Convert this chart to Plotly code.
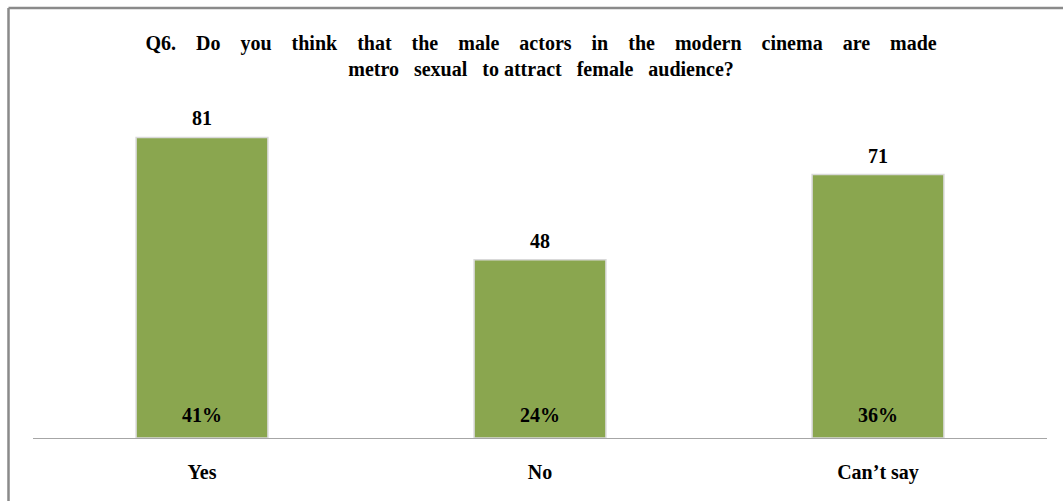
import plotly.graph_objects as go

categories = ["Yes", "No", "Can’t say"]
counts = [81, 48, 71]
percents = ["41%", "24%", "36%"]

title_line1 = ["Q6.", "Do", "you", "think", "that", "the", "male", "actors", "in",
               "the", "modern", "cinema", "are", "made"]
title_line2 = ["metro", "sexual", "to attract", "female", "audience?"]

gap1 = "&nbsp;" * 3 + " "
gap2 = "&nbsp;" * 2 + " "
title_text = "<b>" + gap1.join(title_line1) + "<br>" + gap2.join(title_line2) + "</b>"

W, H = 1063, 501
ml, mr, mt, mb = 33, 16, 104, 63
pw = W - ml - mr
ph = H - mt - mb

font_family = "Liberation Serif, Times New Roman, serif"
green = "#8aa64f"

fig = go.Figure()
fig.add_trace(go.Bar(
    x=categories, y=counts,
    marker=dict(color=green, line=dict(color="#d9d9d9", width=1.5)),
    cliponaxis=False,
    width=0.39,
))

for cat, c in zip(categories, counts):
    fig.add_annotation(x=cat, y=c, text=f"<b>{c}</b>", showarrow=False,
                       yanchor="bottom", yshift=6,
                       font=dict(family=font_family, size=20, color="black"))

for cat, p in zip(categories, percents):
    fig.add_annotation(x=cat, y=0, text=f"<b>{p}</b>", showarrow=False,
                       yanchor="bottom", yshift=10,
                       font=dict(family=font_family, size=20, color="black"))

def px_x(x):
    return (x - ml) / pw

def px_y(y):
    return (H - mb - y) / ph

# outer border (top & left)
fig.add_shape(type="line", xref="paper", yref="paper",
              x0=px_x(8.5), x1=px_x(1070), y0=px_y(8), y1=px_y(8),
              line=dict(color="#8a8a8a", width=2.5))
fig.add_shape(type="line", xref="paper", yref="paper",
              x0=px_x(8.5), x1=px_x(8.5), y0=px_y(8), y1=px_y(510),
              line=dict(color="#8a8a8a", width=2.5))

fig.update_layout(
    width=W, height=H,
    margin=dict(l=ml, r=mr, t=mt, b=mb),
    paper_bgcolor="white", plot_bgcolor="white",
    showlegend=False,
    title=dict(text=title_text, x=0.509, xanchor="center", y=1 - 50 / H, yanchor="middle",
               font=dict(family=font_family, size=20, color="black")),
    xaxis=dict(showline=True, linecolor="#a6a6a6", linewidth=1, ticks="",
               tickfont=dict(family=font_family, size=20, color="black"),
               ticklabelstandoff=16,
               showgrid=False, zeroline=False),
    yaxis=dict(range=[0, 90], visible=False, showgrid=False, zeroline=False),
)
fig.update_xaxes(tickvals=categories, ticktext=[f"<b>{c}</b>" for c in categories])

fig.write_html("out.html")
